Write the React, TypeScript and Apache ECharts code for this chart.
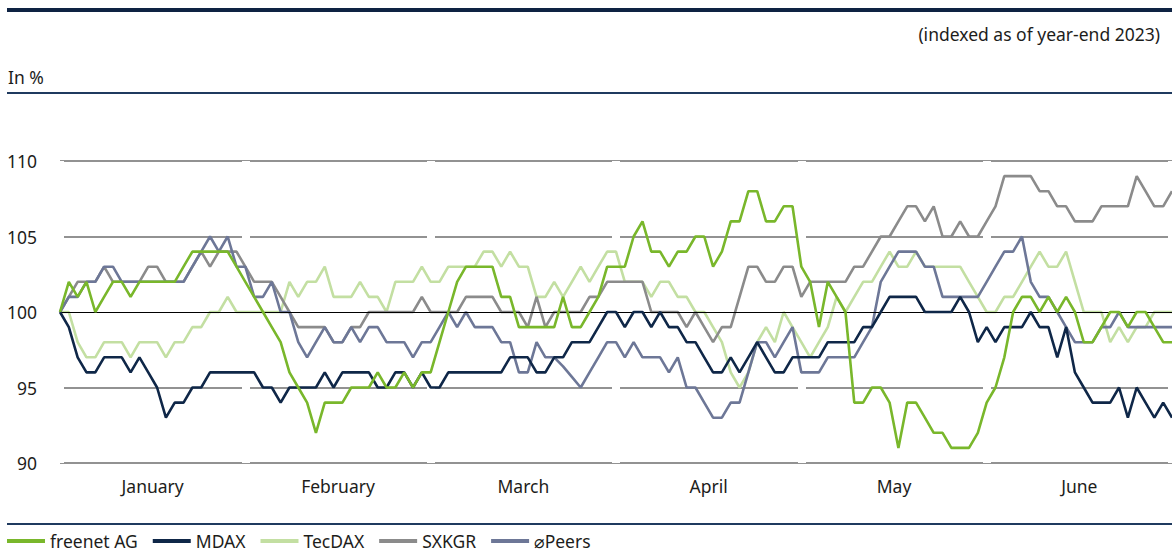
import React, { useEffect, useRef } from "react";
import * as echarts from "echarts";

const months = ["January", "February", "March", "April", "May", "June"];
const yTicks = [90, 95, 100, 105, 110];

const freenet = [
  100, 102, 101, 102, 100, 101, 102, 102, 101, 102,
  102, 102, 102, 102, 103, 104, 104, 104, 104, 104,
  103, 102, 101, 100, 99, 98, 96, 95, 94, 92,
  94, 94, 94, 95, 95, 95, 96, 95, 95, 96,
  95, 96, 96, 98, 100, 102, 103, 103, 103, 103,
  101, 101, 99, 99, 99, 99, 99, 101, 99, 99,
  100, 101, 103, 103, 103, 105, 106, 104, 104, 103,
  104, 104, 105, 105, 103, 104, 106, 106, 108, 108,
  106, 106, 107, 107, 103, 102, 99, 102, 101, 100,
  94, 94, 95, 95, 94, 91, 94, 94, 93, 92,
  92, 91, 91, 91, 92, 94, 95, 97, 100, 101,
  101, 100, 101, 100, 101, 100, 98, 98, 99, 100,
  100, 99, 100, 100, 99, 98, 98,
];

const mdax = [
  100, 99, 97, 96, 96, 97, 97, 97, 96, 97,
  96, 95, 93, 94, 94, 95, 95, 96, 96, 96,
  96, 96, 96, 95, 95, 94, 95, 95, 95, 95,
  96, 95, 96, 96, 96, 96, 95, 95, 96, 96,
  95, 96, 95, 95, 96, 96, 96, 96, 96, 96,
  96, 97, 97, 97, 96, 96, 97, 97, 98, 98,
  98, 99, 100, 100, 99, 100, 100, 99, 100, 99,
  99, 98, 98, 97, 96, 96, 97, 96, 97, 98,
  97, 96, 96, 97, 97, 97, 97, 98, 98, 98,
  98, 99, 99, 100, 101, 101, 101, 101, 100, 100,
  100, 100, 101, 100, 98, 99, 98, 99, 99, 99,
  100, 99, 99, 97, 99, 96, 95, 94, 94, 94,
  95, 93, 95, 94, 93, 94, 93,
];

const tecdax = [
  100, 100, 98, 97, 97, 98, 98, 98, 97, 98,
  98, 98, 97, 98, 98, 99, 99, 100, 100, 101,
  100, 100, 100, 100, 100, 100, 102, 101, 102, 102,
  103, 101, 101, 101, 102, 101, 101, 100, 102, 102,
  102, 103, 102, 102, 103, 103, 103, 103, 104, 104,
  103, 104, 103, 103, 101, 101, 102, 101, 102, 103,
  102, 103, 104, 104, 102, 102, 102, 101, 102, 102,
  101, 101, 100, 100, 99, 98, 96, 95, 96, 98,
  99, 98, 100, 99, 98, 97, 98, 99, 101, 100,
  101, 102, 102, 103, 104, 103, 103, 104, 103, 103,
  103, 103, 103, 102, 101, 100, 100, 101, 101, 102,
  103, 104, 103, 103, 104, 102, 100, 100, 100, 98,
  99, 98, 99, 99, 100, 100, 100,
];

const sxkgr = [
  100, 101, 102, 102, 102, 103, 102, 102, 102, 102,
  103, 103, 102, 102, 102, 103, 104, 103, 104, 104,
  104, 103, 102, 102, 102, 101, 100, 99, 99, 99,
  99, 98, 98, 99, 99, 100, 100, 100, 100, 100,
  100, 101, 100, 100, 100, 100, 101, 101, 101, 101,
  100, 100, 100, 99, 101, 99, 100, 100, 100, 100,
  101, 101, 102, 102, 102, 102, 102, 100, 100, 100,
  100, 99, 100, 99, 98, 99, 99, 101, 103, 103,
  102, 102, 103, 103, 101, 102, 102, 102, 102, 102,
  103, 103, 104, 105, 105, 106, 107, 107, 106, 107,
  105, 105, 106, 105, 105, 106, 107, 109, 109, 109,
  109, 108, 108, 107, 107, 106, 106, 106, 107, 107,
  107, 107, 109, 108, 107, 107, 108,
];

const peers = [
  100, 101, 101, 102, 102, 103, 103, 102, 102, 102,
  102, 102, 102, 102, 102, 103, 104, 105, 104, 105,
  103, 103, 101, 101, 102, 100, 100, 98, 97, 98,
  99, 98, 98, 99, 98, 99, 99, 98, 98, 98,
  97, 98, 98, 99, 100, 99, 100, 99, 99, 99,
  98, 98, 96, 96, 98, 97, 97, 96.4, 95.7, 95,
  96, 97, 98, 98, 97, 98, 97, 97, 97, 96,
  97, 95, 95, 94, 93, 93, 94, 94, 96, 98,
  98, 97, 98, 99, 96, 96, 96, 97, 97, 97,
  97, 98, 99, 102, 103, 104, 104, 104, 103, 103,
  101, 101, 101, 101, 101, 102, 103, 104, 104, 105,
  102, 101, 101, 100, 99, 98, 98, 98, 99, 99,
  100, 99, 99, 99, 99, 99, 99,
];

// trading-day index (year-end 2023 = day 0)
const days = freenet.map((_, i) => String(i));

const FONT = "'Noto Sans', 'DejaVu Sans', sans-serif";
const FS = 17.5;
const TEXT = "#1d1d1b";
const NAVY = "#0e2343";

export default function App() {
  const ref = useRef<HTMLDivElement>(null);

  useEffect(() => {
    if (!ref.current) return;
    const chart = echarts.init(ref.current, null, { renderer: "svg" });

    const line = (name: string, data: number[], color: string, z: number) => ({
      type: "line",
      name,
      data,
      xAxisIndex: 0,
      yAxisIndex: 0,
      symbol: "none",
      silent: true,
      z,
      lineStyle: { color, width: 2.6 },
      itemStyle: { color },
    });

    chart.setOption({
      animation: false,
      grid: { left: 60, right: 0, top: 161, bottom: 91 },
      xAxis: [
        { type: "category", data: days, boundaryGap: false, show: false },
        {
          type: "category",
          data: months,
          boundaryGap: true,
          position: "bottom",
          z: 1,
          axisLine: { show: false },
          axisTick: { show: false },
          axisLabel: { interval: 0, fontSize: FS, color: TEXT, fontFamily: FONT, margin: 14 },
          splitLine: { show: true, interval: 0, lineStyle: { color: "#ffffff", width: 8 } },
        },
      ],
      yAxis: {
        type: "value",
        min: yTicks[0],
        max: yTicks[yTicks.length - 1],
        interval: 5,
        z: 0,
        axisLine: { show: false },
        axisTick: { show: false },
        axisLabel: { align: "right", margin: 23, fontSize: FS, color: TEXT, fontFamily: FONT },
        splitLine: {
          lineStyle: {
            color: ["#6e6e6e", "#6e6e6e", "rgba(0,0,0,0)", "#6e6e6e", "#6e6e6e"],
            width: 1.5,
          },
        },
      },
      legend: {
        left: 7,
        top: 531,
        padding: 0,
        icon: "rect",
        itemWidth: 38,
        itemHeight: 4,
        itemGap: 15,
        selectedMode: false,
        textStyle: { fontSize: FS, lineHeight: 20, color: TEXT, fontFamily: FONT },
        data: ["freenet AG", "MDAX", "TecDAX", "SXKGR", "⌀Peers"],
      },
      graphic: [
        { type: "rect", shape: { x: 7, y: 8, width: 1165, height: 4 }, style: { fill: NAVY } },
        { type: "rect", shape: { x: 7, y: 92, width: 1165, height: 2 }, style: { fill: "#1f3a5f" } },
        { type: "rect", shape: { x: 7, y: 523, width: 1165, height: 2 }, style: { fill: "#1f3a5f" } },
        {
          type: "text",
          x: 1160,
          y: 34,
          style: {
            text: "(indexed as of year-end 2023)",
            fontSize: FS,
            fontFamily: FONT,
            fill: TEXT,
            align: "right",
            verticalAlign: "middle",
          },
        },
        {
          type: "text",
          x: 8,
          y: 77,
          style: { text: "In %", fontSize: FS, fontFamily: FONT, fill: TEXT, align: "left", verticalAlign: "middle" },
        },
      ],
      series: [
        {
          type: "line",
          name: "baseline",
          data: [],
          xAxisIndex: 0,
          yAxisIndex: 0,
          z: 1,
          silent: true,
          markLine: {
            silent: true,
            symbol: "none",
            label: { show: false },
            lineStyle: { color: "#000000", width: 1, type: "solid" },
            data: [{ yAxis: 100 }],
          },
        },
        line("TecDAX", tecdax, "#c3dfa2", 2),
        line("SXKGR", sxkgr, "#8b8b8b", 3),
        line("⌀Peers", peers, "#6d7797", 4),
        line("MDAX", mdax, "#0f2748", 5),
        line("freenet AG", freenet, "#79b72b", 6),
      ],
    });

    return () => chart.dispose();
  }, []);

  return (
    <div
      ref={ref}
      style={{ position: "fixed", left: 0, top: 0, width: 1172, height: 554, background: "#ffffff" }}
    />
  );
}
